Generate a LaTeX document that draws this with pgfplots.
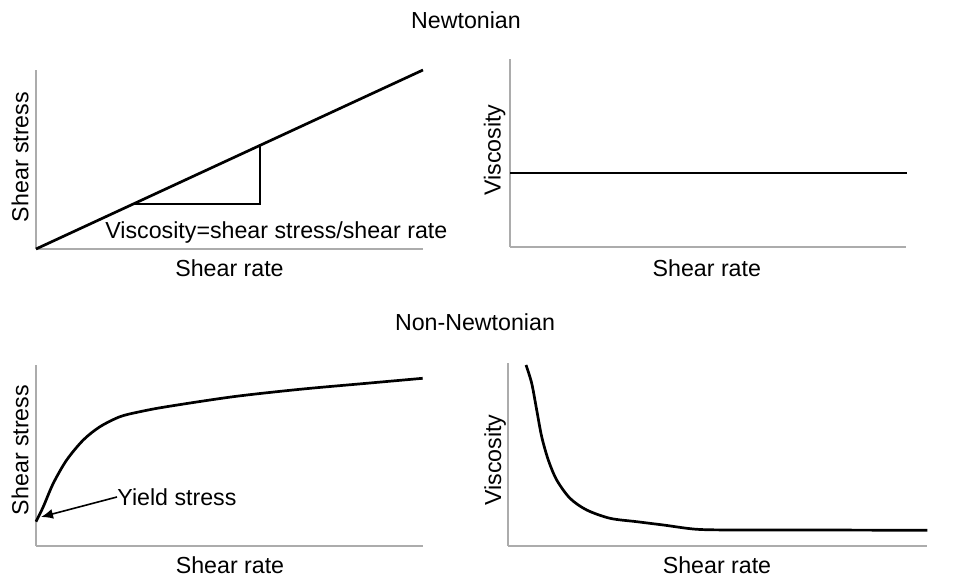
\documentclass[border=0pt]{standalone}
\usepackage{fontspec}
\setmainfont{Liberation Sans}
\usepackage{pgfplots}
\pgfplotsset{compat=1.18}
\usetikzlibrary{arrows.meta}
\pgfplotsset{
  panel/.style={
    scale only axis,
    axis lines*=left,
    xtick=\empty, ytick=\empty,
    axis line style={gray!65, line width=0.6pt},
    xmin=0, ymin=0,
    clip=false,
    anchor=south west,
  },
  curve/.style={black, line width=1.35pt, no markers},
}
\begin{document}
\begin{tikzpicture}[font=\fontsize{11.6}{14}\selectfont, x=1pt, y=1pt]
% Top left: Newtonian shear stress
\begin{axis}[panel, at={(18pt,164pt)}, width=193.5pt, height=89.5pt, xmax=387, ymax=179]
\addplot[curve] coordinates {(0,0) (387,179)};
\addplot[black, line width=0.8pt, no markers] coordinates {(97,44.9) (224,44.9) (224,103.6)};
\node[anchor=west, inner sep=0pt] at (axis cs:69,16) {Viscosity=shear stress/shear rate};
\node at (axis cs:193.5,-19) {Shear rate};
\node[rotate=90] at (axis cs:-16,92) {Shear stress};
\end{axis}
% Top right: Newtonian viscosity
\begin{axis}[panel, at={(255pt,165pt)}, width=194pt, height=94pt, xmax=388, ymax=188]
\addplot[curve] coordinates {(0,74) (389,74)};
\node at (axis cs:193,-21) {Shear rate};
\node[rotate=90] at (axis cs:-15,97) {Viscosity};
\end{axis}
% Bottom left: Non-Newtonian shear stress
\begin{axis}[panel, at={(18pt,15.5pt)}, width=193.5pt, height=90.5pt, xmax=387, ymax=181]
\addplot[curve, smooth, tension=0.5] coordinates {
(0,24.3) (7.3,39.3) (17.3,62.7) (30.7,86) (47.3,106) (64,119.3) (84,129.3)
(104,134.3) (130.7,139.3) (197.3,149.3) (264,156.7) (330.7,162.7) (386.7,167.7)};
\draw[-{Latex[length=6pt,width=5pt]}, black, line width=0.8pt] (axis cs:81,49) -- (axis cs:5,29);
\node[anchor=west, inner sep=0pt] at (axis cs:81,49) {Yield stress};
\node at (axis cs:194,-19) {Shear rate};
\node[rotate=90] at (axis cs:-16,96) {Shear stress};
\end{axis}
% Bottom right: Non-Newtonian viscosity
\begin{axis}[panel, at={(254pt,15.5pt)}, width=209.5pt, height=91.5pt, xmax=419, ymax=183]
\addplot[curve, smooth, tension=0.5] coordinates {
(18,181) (23.7,162.7) (28.7,136) (33.7,109.3) (40.3,86) (48.7,66) (62,47.7)
(78.7,36) (102,27.7) (128.7,24.3) (155.3,21) (188.7,16.7) (228.7,16) (295.3,16) (419.3,15.7)};
\node at (axis cs:209,-19) {Shear rate};
\node[rotate=90] at (axis cs:-13,86) {Viscosity};
\end{axis}
\node at (233pt,278.5pt) {Newtonian};
\node at (237.5pt,127.5pt) {Non-Newtonian};
\pgfresetboundingbox
\useasboundingbox (0,0) rectangle (482.5pt,288.5pt);
\end{tikzpicture}
\end{document}
